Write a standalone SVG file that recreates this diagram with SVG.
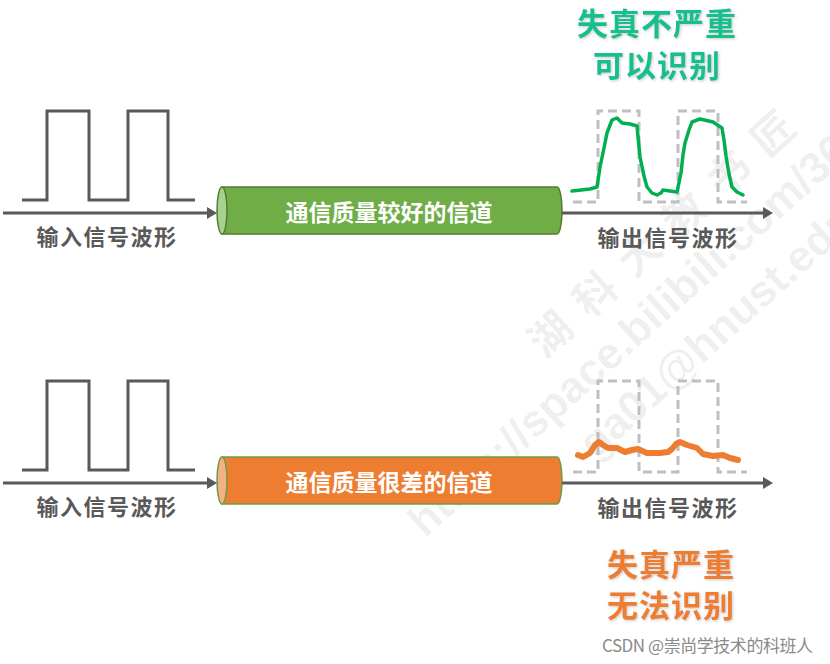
<svg xmlns="http://www.w3.org/2000/svg" width="830" height="664" viewBox="0 0 830 664">
<defs>
  <style>
    .cjk{font-family:"Noto Sans CJK SC","Noto Sans",sans-serif;}
    .lbl{font-size:22px;font-weight:700;fill:#595959;text-anchor:middle;letter-spacing:1.5px;}
    .ctext{font-size:23px;font-weight:700;fill:#ffffff;text-anchor:middle;}
    .title{font-size:31px;font-weight:700;text-anchor:middle;letter-spacing:1px;}
    .wave{fill:none;stroke:#595959;stroke-width:3;stroke-linejoin:miter;}
    .dash{fill:none;stroke:#BFBFBF;stroke-width:3;stroke-dasharray:9 5;}
    .conn{fill:none;stroke:#595959;stroke-width:3;}
    .wm{font-family:"Liberation Sans",Arial,sans-serif;font-weight:700;font-size:44px;fill:#000;fill-opacity:0.075;}
    .wmc{font-family:"Noto Sans CJK SC",sans-serif;font-weight:700;font-size:42px;fill:#000;fill-opacity:0.075;letter-spacing:18px;}
  </style>
  <marker id="ah" viewBox="0 0 10 12" markerWidth="10" markerHeight="12" refX="2" refY="6" markerUnits="userSpaceOnUse" orient="auto">
    <path d="M0,0 L10,6 L0,12 Z" fill="#595959"/>
  </marker>
  <filter id="glow" x="-10%" y="-20%" width="120%" height="140%">
    <feGaussianBlur in="SourceAlpha" stdDeviation="1.6" result="b"/>
    <feOffset in="b" dx="1" dy="1" result="o"/>
    <feFlood flood-color="#9a9a9a" flood-opacity="0.55"/>
    <feComposite in2="o" operator="in" result="s"/>
    <feMerge><feMergeNode in="s"/><feMergeNode in="SourceGraphic"/></feMerge>
  </filter>
</defs>
<rect width="830" height="664" fill="#ffffff"/>

<!-- watermark -->
<g id="watermark" transform="rotate(-42 635 328)">
  <text class="wmc" x="547" y="291">湖科大教书匠</text>
  <text class="wm" x="338" y="344">https://space.bilibili.com/360996402</text>
  <text class="wm" x="517" y="400">ga01@hnust.edu.cn</text>
</g>

<!-- top row -->
<g id="input-top">
  <path class="wave" d="M22,200 H47 V111 H89 V200 H128 V111 H168 V200 H195"/>
  <text class="cjk lbl" x="107" y="245">输入信号波形</text>
</g>
<g id="channel-good">
  <path d="M222,187 H557 A5,23.5 0 0 1 557,234 H222 Z" fill="#70AD47" stroke="#507E32" stroke-width="1.5"/>
  <ellipse cx="222" cy="210.5" rx="5" ry="23.5" fill="#A9D18E" stroke="#507E32" stroke-width="1.5"/>
  <text class="cjk ctext" x="389" y="221">通信质量较好的信道</text>
</g>
<g id="output-top">
  <path class="dash" d="M573,202 H598 V111 H639 V202 H678 V111 H718 V202 H747"/>
  <path fill="none" stroke="#00B050" stroke-width="3.5" stroke-linejoin="round" stroke-linecap="round"
    d="M572,191 L590,189 L597,187 L600,167 L604,148 L607,133 L612,120 L617,118 L622,123 L630,124 L637,126 L640,157 L644,176 L647,187 L652,193 L657,195 L661,193 L663,190 L670,191 L677,192 L681,173 L683,155 L685,143 L689,130 L692,122 L700,119 L713,122 L722,128 L724,140 L726,156 L729,174 L732,187 L737,192 L743,195"/>
  <text class="cjk lbl" x="668" y="246">输出信号波形</text>
</g>
<g id="note-top" filter="url(#glow)">
  <text class="cjk title" x="657" y="35" fill="#17BF8F">失真不严重</text>
  <text class="cjk title" x="657" y="77" fill="#17BF8F">可以识别</text>
</g>

<!-- bottom row -->
<g id="input-bottom">
  <path class="wave" d="M22,470 H47 V381 H89 V470 H128 V381 H168 V470 H195"/>
  <text class="cjk lbl" x="107" y="515">输入信号波形</text>
</g>
<g id="channel-bad">
  <path d="M222,457 H557 A5,23.5 0 0 1 557,504 H222 Z" fill="#ED7D31" stroke="#6E9C45" stroke-width="1.5"/>
  <ellipse cx="222" cy="480.5" rx="5" ry="23.5" fill="#F4B183" stroke="#6E9C45" stroke-width="1.5"/>
  <text class="cjk ctext" x="389" y="491">通信质量很差的信道</text>
</g>
<g id="output-bottom">
  <path class="dash" d="M573,472 H598 V381 H639 V472 H678 V381 H718 V472 H747"/>
  <path fill="none" stroke="#ED7D31" stroke-width="6" stroke-linejoin="round" stroke-linecap="round"
    d="M578,455 L583,457 L590,453 L595,445 L599,442 L603,445 L608,448 L617,448 L625,452 L632,450 L638,449 L647,453 L660,453 L668,452 L672,449 L676,444 L680,442 L687,445 L697,448 L703,454 L713,456 L723,455 L730,458 L738,460"/>
  <text class="cjk lbl" x="668" y="516">输出信号波形</text>
</g>
<g id="note-bottom" filter="url(#glow)">
  <text class="cjk title" x="671" y="576" fill="#EE7D30">失真严重</text>
  <text class="cjk title" x="671" y="617" fill="#EE7D30">无法识别</text>
</g>

<!-- connectors -->
<g id="connectors">
  <line class="conn" x1="3" y1="213" x2="209" y2="213" marker-end="url(#ah)"/>
  <line class="conn" x1="562" y1="213" x2="765" y2="213" marker-end="url(#ah)"/>
  <line class="conn" x1="3" y1="483" x2="209" y2="483" marker-end="url(#ah)"/>
  <line class="conn" x1="562" y1="483" x2="765" y2="483" marker-end="url(#ah)"/>
</g>

<text class="cjk" x="602" y="652" font-size="17" fill="#8a8a8a" textLength="211" lengthAdjust="spacing">CSDN @崇尚学技术的科班人</text>
</svg>
